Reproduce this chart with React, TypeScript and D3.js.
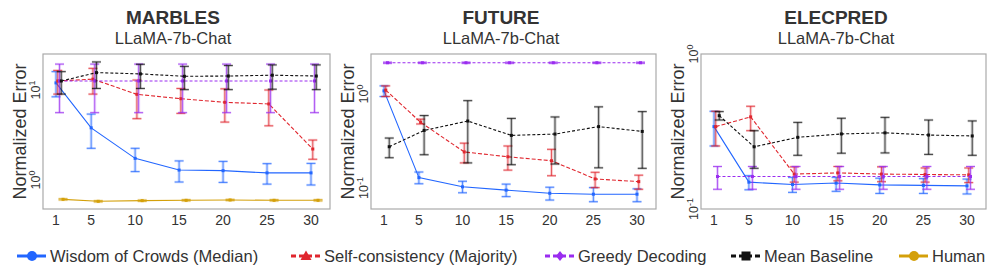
import React from 'react';
import * as d3 from 'd3';

// x 值：样本数
const X_VALUES = [1, 5, 10, 15, 20, 25, 30];

// 每个点为 [下界, 中值, 上界]
const marblesWoc = [[8.4, 12.0, 16], [2.25, 3.8, 5.4], [1.24, 1.74, 2.25], [0.95, 1.29, 1.63], [0.94, 1.27, 1.61], [0.9, 1.2, 1.52], [0.88, 1.2, 1.53]];
const marblesSc = [[9.0, 12.6, 16.5], [9.0, 13.2, 17.4], [4.8, 8.95, 12.9], [5.5, 8.0, 10.4], [4.4, 7.3, 10.3], [4.0, 7.0, 10.0], [1.7, 2.21, 2.78]];
const marblesGreedy = [[5.6, 12.6, 19.4], [5.6, 12.6, 19.4], [5.6, 12.6, 19.4], [5.6, 12.6, 19.4], [5.6, 12.6, 19.4], [5.6, 12.6, 19.4], [5.6, 12.6, 19.4]];
const marblesMean = [[9.0, 12.6, 16], [10.4, 15.6, 20.5], [10.4, 15.1, 19.3], [10.1, 14.2, 18.3], [10.1, 14.3, 18.7], [10.2, 14.6, 19.0], [10.1, 14.3, 19.0]];
const marblesHuman = [[0.6, 0.61, 0.62], [0.57, 0.58, 0.59], [0.58, 0.59, 0.6], [0.585, 0.595, 0.605], [0.59, 0.6, 0.61], [0.585, 0.595, 0.605], [0.585, 0.595, 0.605]];

const futureWoc = [[0.94, 1.08, 1.22], [0.111, 0.129, 0.148], [0.089, 0.103, 0.118], [0.081, 0.095, 0.11], [0.0745, 0.088, 0.102], [0.0715, 0.086, 0.101], [0.0715, 0.086, 0.098]];
const futureSc = [[0.94, 1.1, 1.22], [0.48, 0.5, 0.54], [0.185, 0.242, 0.3], [0.155, 0.215, 0.28], [0.135, 0.195, 0.258], [0.101, 0.125, 0.147], [0.097, 0.117, 0.137]];
const futureGreedy = [[2.12, 2.15, 2.18], [2.12, 2.15, 2.18], [2.12, 2.15, 2.18], [2.12, 2.15, 2.18], [2.12, 2.15, 2.18], [2.12, 2.15, 2.18], [2.12, 2.15, 2.18]];
const futureMean = [[0.21, 0.275, 0.34], [0.226, 0.41, 0.59], [0.185, 0.516, 0.85], [0.177, 0.363, 0.55], [0.18, 0.375, 0.57], [0.164, 0.45, 0.73], [0.162, 0.4, 0.65]];

const elecWoc = [[0.255, 0.34, 0.427], [0.133, 0.149, 0.164], [0.128, 0.144, 0.16], [0.13, 0.147, 0.16], [0.126, 0.143, 0.158], [0.126, 0.142, 0.157], [0.125, 0.141, 0.156]];
const elecSc = [[0.255, 0.34, 0.427], [0.32, 0.393, 0.46], [0.149, 0.168, 0.187], [0.152, 0.171, 0.188], [0.15, 0.168, 0.187], [0.149, 0.167, 0.184], [0.148, 0.166, 0.184]];
const elecGreedy = [[0.134, 0.162, 0.188], [0.134, 0.162, 0.188], [0.134, 0.162, 0.188], [0.134, 0.162, 0.188], [0.134, 0.162, 0.188], [0.134, 0.162, 0.188], [0.134, 0.162, 0.188]];
const elecMean = [[0.375, 0.4, 0.425], [0.183, 0.252, 0.32], [0.222, 0.29, 0.362], [0.229, 0.305, 0.385], [0.23, 0.31, 0.39], [0.225, 0.3, 0.375], [0.222, 0.296, 0.37]];

const LEGEND_NAMES = ['Wisdom of Crowds (Median)', 'Self-consistency (Majority)', 'Greedy Decoding', 'Mean Baseline', 'Human'];

// 系列样式
const STYLES = {
  woc: { color: '#2266ff', dash: null, offset: 0 },
  sc: { color: '#e0262e', dash: '4,2', offset: 0.2 },
  greedy: { color: '#9a2cf0', dash: '3,2', offset: 0.4 },
  mean: { color: '#111111', dash: '3,2', offset: 0.6 },
  human: { color: '#d4a00a', dash: null, offset: 0.8 },
};

const FONT = '"Liberation Sans", Arial, Helvetica, sans-serif';
const TOP = 54;
const BOTTOM = 209;

const panels = [
  {
    title: 'MARBLES', left: 43, right: 330, titleX: 173,
    yDomain: [Math.pow(10, -0.322), Math.pow(10, 1.4)], yTicks: [[1, '0'], [10, '1']],
    series: [['woc', marblesWoc], ['sc', marblesSc], ['greedy', marblesGreedy], ['mean', marblesMean], ['human', marblesHuman]],
  },
  {
    title: 'FUTURE', left: 371, right: 656, titleX: 501,
    yDomain: [Math.pow(10, -1.223), Math.pow(10, 0.4255)], yTicks: [[0.1, '-1'], [1, '0']],
    series: [['woc', futureWoc], ['sc', futureSc], ['greedy', futureGreedy], ['mean', futureMean]],
  },
  {
    title: 'ELECPRED', left: 701, right: 986, titleX: 836,
    yDomain: [0.1, 1], yTicks: [[0.1, '-1'], [1, '0']],
    series: [['woc', elecWoc], ['sc', elecSc], ['greedy', elecGreedy], ['mean', elecMean]],
  },
];

const Panel = ({ p }) => {
  const x = d3.scaleLinear().domain([1, 30]).range([p.left + 13, p.right - 19]);
  const y = d3.scaleLog().domain(p.yDomain).range([BOTTOM, TOP]);
  const midY = (TOP + BOTTOM) / 2;

  return (
    <g>
      {/* 标题 */}
      <text x={p.titleX} y={24} textAnchor="middle" fontSize={19} fontWeight="bold" fill="#333" fontFamily={FONT}>{p.title}</text>
      <text x={p.titleX} y={44} textAnchor="middle" fontSize={16.5} fill="#333" fontFamily={FONT}>LLaMA-7b-Chat</text>

      {/* 坐标框 */}
      <rect x={p.left} y={TOP} width={p.right - p.left} height={BOTTOM - TOP} fill="white" stroke="#aaa" strokeWidth={1.2} />

      {/* y 轴刻度 */}
      {p.yTicks.map(([v, exp]) => (
        <text key={exp} transform={`translate(${p.left - 3},${y(v)}) rotate(-90)`} textAnchor="middle" fontSize={12.5} fill="#333" fontFamily={FONT}>
          10<tspan dy={-5} fontSize={9}>{exp}</tspan>
        </text>
      ))}
      <text transform={`translate(${p.left - 17},${midY}) rotate(-90)`} textAnchor="middle" fontSize={18} fill="#333" fontFamily={FONT}>Normalized Error</text>

      {/* x 轴刻度 */}
      {X_VALUES.map(v => (
        <text key={v} x={x(v)} y={225} textAnchor="middle" fontSize={14} fill="#333" fontFamily={FONT}>{v}</text>
      ))}

      {/* 系列 */}
      {p.series.map(([key, data]) => {
        const s = STYLES[key];
        const pts = data.map((d, i) => ({ px: x(X_VALUES[i] + s.offset), lo: y(d[0]), mid: y(d[1]), hi: y(d[2]) }));
        const line = d3.line().x(d => d.px).y(d => d.mid);
        return (
          <g key={key}>
            {pts.map((d, i) => (
              <g key={i}>
                <line x1={d.px} x2={d.px} y1={d.lo} y2={d.hi} stroke={s.color} strokeWidth={3} strokeOpacity={0.22} />
                <line x1={d.px} x2={d.px} y1={d.lo} y2={d.hi} stroke={s.color} strokeWidth={1} strokeOpacity={0.7} />
                {[d.lo, d.hi].map((cy, j) => (
                  <g key={j}>
                    <line x1={d.px - 4.5} x2={d.px + 4.5} y1={cy} y2={cy} stroke={s.color} strokeWidth={2.5} strokeOpacity={0.22} />
                    <line x1={d.px - 4.5} x2={d.px + 4.5} y1={cy} y2={cy} stroke={s.color} strokeWidth={1} strokeOpacity={0.75} />
                  </g>
                ))}
              </g>
            ))}
            <path d={line(pts)} fill="none" stroke={s.color} strokeWidth={1.1} strokeDasharray={s.dash || undefined} />
            {pts.map((d, i) => (
              <rect key={i} x={d.px - 1.5} y={d.mid - 1.5} width={3} height={3} fill={s.color} />
            ))}
          </g>
        );
      })}
    </g>
  );
};

const Legend = () => {
  const keys = ['woc', 'sc', 'greedy', 'mean', 'human'];
  const starts = [17, 291, 545, 731, 899];
  const ly = 256;
  return (
    <g>
      {keys.map((k, i) => {
        const s = STYLES[k];
        const x0 = starts[i];
        const cx = x0 + 15;
        let marker;
        if (k === 'woc' || k === 'human') marker = <circle cx={cx} cy={ly} r={5} fill={s.color} />;
        else if (k === 'sc') marker = <path d={`M${cx},${ly - 5.5}L${cx + 5.5},${ly + 4}L${cx - 5.5},${ly + 4}Z`} fill={s.color} />;
        else if (k === 'greedy') marker = <path d={`M${cx},${ly - 5}L${cx + 4},${ly}L${cx},${ly + 5}L${cx - 4},${ly}Z`} fill={s.color} />;
        else marker = <rect x={cx - 4.5} y={ly - 4.5} width={9} height={9} fill={s.color} />;
        return (
          <g key={k}>
            <line x1={x0} x2={x0 + 29} y1={ly} y2={ly} stroke={s.color} strokeWidth={3} strokeDasharray={s.dash ? '5,3' : undefined} />
            {marker}
            <text x={x0 + 33} y={ly + 6} fontSize={16.5} fill="#333" fontFamily={FONT}>{LEGEND_NAMES[i]}</text>
          </g>
        );
      })}
    </g>
  );
};

export default function App() {
  return (
    <svg width={997} height={279} style={{ position: 'absolute', left: 0, top: 0, background: 'white' }}>
      {panels.map(p => <Panel key={p.title} p={p} />)}
      <Legend />
    </svg>
  );
}
